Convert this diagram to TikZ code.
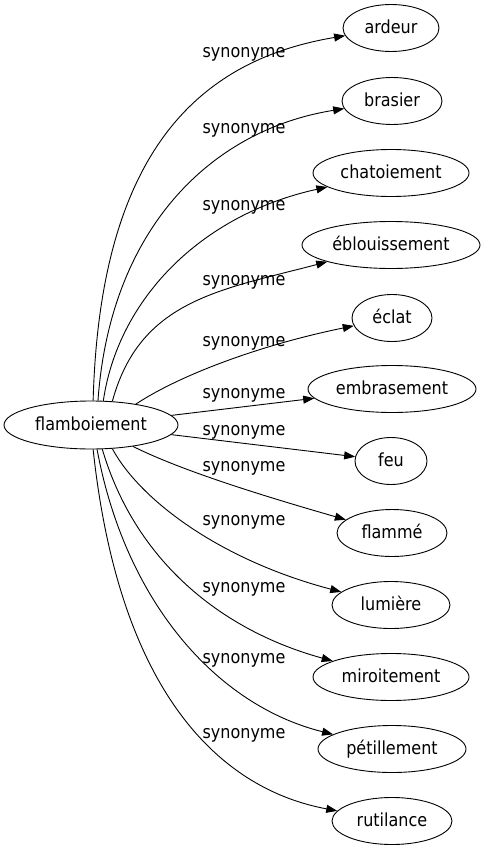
\documentclass[tikz,border=0pt]{standalone}
\usepackage{fontspec}
\setmainfont{DejaVu Sans}[FakeStretch=0.89]
\usetikzlibrary{arrows.meta,shapes.geometric}
\tikzset{
  term/.style={draw, ellipse, inner sep=0pt, minimum height=47pt,
    text height=14pt, text depth=3pt, line width=0.9pt},
  rel/.style={anchor=mid, inner sep=0pt},
  syn/.style={draw, line width=0.9pt, -{Triangle[length=11pt,width=8pt]}}
}
\begin{document}
\begin{tikzpicture}[x=1pt,y=-1pt]
\fontsize{18}{20}\selectfont
\useasboundingbox (0,0) rectangle (486,851);
\node[term, minimum width=174pt, minimum height=48pt] (flam) at (91,425) {flamboiement};
\node[term, minimum width=96pt]  (ardeur) at (391,28)  {ardeur};
\node[term, minimum width=100pt] (bras)   at (392,101) {brasier};
\node[term, minimum width=156pt] (chat)   at (391,173) {chatoiement};
\node[term, minimum width=178pt] (ebl)    at (391,245) {éblouissement};
\node[term, minimum width=80pt]  (eclat)  at (392,318) {éclat};
\node[term, minimum width=168pt] (embr)   at (392,389) {embrasement};
\node[term, minimum width=72pt]  (feu)    at (391,461) {feu};
\node[term, minimum width=110pt] (flamme) at (392,533) {flammé};
\node[term, minimum width=118pt] (lum)    at (391,605) {lumière};
\node[term, minimum width=156pt] (miro)   at (391,677) {miroitement};
\node[term, minimum width=148pt] (pet)    at (392,749) {pétillement};
\node[term, minimum width=120pt] (rut)    at (392,821) {rutilance};

\node[rel] (l1)  at (244,53)  {synonyme};
\node[rel] (l2)  at (244,129) {synonyme};
\node[rel] (l3)  at (244,206) {synonyme};
\node[rel] (l4)  at (244,281) {synonyme};
\node[rel] (l5)  at (244,342) {synonyme};
\node[rel] (l6)  at (244,394) {synonyme};
\node[rel] (l7)  at (244,431) {synonyme};
\node[rel] (l8)  at (244,467) {synonyme};
\node[rel] (l9)  at (244,521) {synonyme};
\node[rel] (l10) at (244,588) {synonyme};
\node[rel] (l11) at (244,659) {synonyme};
\node[rel] (l12) at (244,734) {synonyme};

\draw[syn] (flam.85) .. controls (100,150) and (200,60) .. (ardeur);
\draw[syn] (flam.74) .. controls (110,230) and (210,130) .. (bras);
\draw[syn] (flam.63) .. controls (118,300) and (200,215) .. (chat);
\draw[syn] (flam.48) .. controls (140,300) and (220,290) .. (ebl);
\draw[syn] (flam.25) .. controls (180,375) and (260,345) .. (eclat);
\draw[syn] (flam) -- (embr);
\draw[syn] (flam) -- (feu);
\draw[syn] (flam.-27) .. controls (180,470) and (260,495) .. (flamme);
\draw[syn] (flam.-48) .. controls (140,500) and (220,560) .. (lum);
\draw[syn] (flam.-65) .. controls (135,560) and (220,630) .. (miro);
\draw[syn] (flam.-76) .. controls (125,600) and (215,705) .. (pet);
\draw[syn] (flam.-85) .. controls (120,700) and (225,790) .. (rut);
\end{tikzpicture}
\end{document}
